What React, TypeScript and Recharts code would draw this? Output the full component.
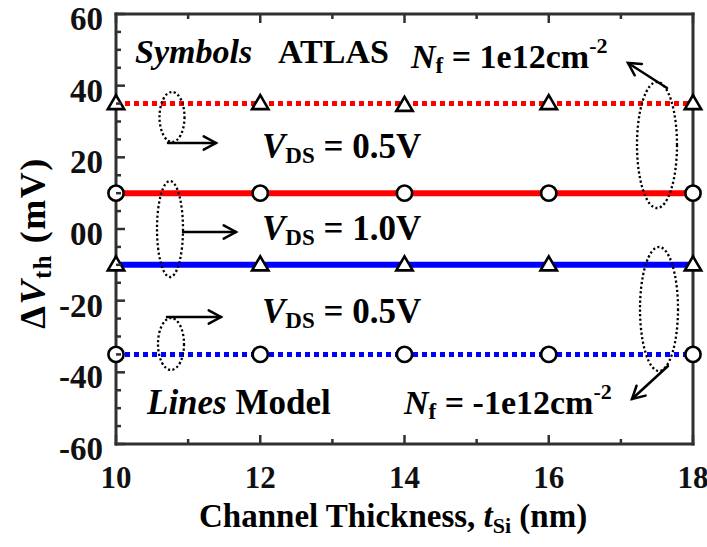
import React from 'react';
import { LineChart, Line, XAxis, YAxis } from 'recharts';

// ---- data ----
const thickness = [10, 12, 14, 16, 18];
const modelNfPosVds05 = [35, 35, 35, 35, 35];
const modelNfPosVds10 = [10, 10, 10, 10, 10];
const modelNfNegVds10 = [-10, -10, -10, -10, -10];
const modelNfNegVds05 = [-35, -35, -35, -35, -35];
const atlasNfPosVds05 = [35, 35, 34.5, 35, 35];
const atlasNfPosVds10 = [10, 10, 10, 10, 10];
const atlasNfNegVds10 = [-10, -10, -10, -10, -10];
const atlasNfNegVds05 = [-35, -35, -35, -35, -35];

const xTicks = [10, 11, 12, 13, 14, 15, 16, 17, 18];
const xMajor = [10, 12, 14, 16, 18];
const xTickLabels = ['10', '12', '14', '16', '18'];
const yTicks = [-60, -55, -50, -45, -40, -35, -30, -25, -20, -15, -10, -5, 0, 5, 10, 15, 20, 25, 30, 35, 40, 45, 50, 55, 60];
const yMajor = [60, 40, 20, 0, -20, -40, -60];
const yTickLabels = ['60', '40', '20', '00', '-20', '-40', '-60'];

const data = thickness.map((t, i) => ({
  t,
  m1: modelNfPosVds05[i],
  m2: modelNfPosVds10[i],
  m3: modelNfNegVds10[i],
  m4: modelNfNegVds05[i],
  s1: atlasNfPosVds05[i],
  s2: atlasNfPosVds10[i],
  s3: atlasNfNegVds10[i],
  s4: atlasNfNegVds05[i],
}));

const FRAME = '#303030';
const FONT = '"Liberation Serif", "Times New Roman", Times, serif';
const RED = '#ff0000';
const BLUE = '#0000ff';

const BottomTick = (props: any) => {
  const { x, y, payload } = props;
  const v = payload.value;
  const mi = xMajor.indexOf(v);
  const major = mi >= 0;
  return (
    <g>
      <line x1={x} y1={y} x2={x} y2={y - (major ? 9 : 5)} stroke={FRAME} strokeWidth={2.5} />
      {major && (
        <text x={x} y={y + 44} textAnchor="middle" fontFamily={FONT} fontWeight="bold" fontSize={31} fill="#111">
          {xTickLabels[mi]}
        </text>
      )}
    </g>
  );
};

const TopTick = (props: any) => {
  const { x, y, payload } = props;
  const major = xMajor.indexOf(payload.value) >= 0;
  return <line x1={x} y1={y} x2={x} y2={y + (major ? 9 : 5)} stroke={FRAME} strokeWidth={2.5} />;
};

const LeftTick = (props: any) => {
  const { x, y, payload } = props;
  const v = payload.value;
  const mi = yMajor.indexOf(v);
  const major = mi >= 0;
  return (
    <g>
      <line x1={x} y1={y} x2={x + (major ? 9 : 5)} y2={y} stroke={FRAME} strokeWidth={2.5} />
      {major && (
        <text x={x - 13} y={y + 16} textAnchor="end" fontFamily={FONT} fontWeight="bold" fontSize={33} fill="#111">
          {yTickLabels[mi]}
        </text>
      )}
    </g>
  );
};

const RightTick = (props: any) => {
  const { x, y, payload } = props;
  if (yMajor.indexOf(payload.value) < 0) return <g />;
  return <line x1={x} y1={y} x2={x - 9} y2={y} stroke={FRAME} strokeWidth={2.5} />;
};

const triDot = (p: any) => {
  const { cx, cy, index } = p;
  if (cx == null || cy == null) return <g key={index} />;
  return (
    <path
      key={'tri' + index}
      d={`M${cx},${cy - 8.5} L${cx + 8.2},${cy + 5.5} L${cx - 8.2},${cy + 5.5} Z`}
      fill="#fff"
      stroke="#000"
      strokeWidth={2.6}
      strokeLinejoin="miter"
    />
  );
};

const circDot = (p: any) => {
  const { cx, cy, index } = p;
  if (cx == null || cy == null) return <g key={index} />;
  return <circle key={'c' + index} cx={cx} cy={cy} r={7.6} fill="#fff" stroke="#000" strokeWidth={2.6} />;
};

const Arrow = ({ x1, y1, x2, y2 }: { x1: number; y1: number; x2: number; y2: number }) => {
  const a = Math.atan2(y2 - y1, x2 - x1);
  const L = 14;
  const s = 0.5;
  const h1x = x2 - L * Math.cos(a - s);
  const h1y = y2 - L * Math.sin(a - s);
  const h2x = x2 - L * Math.cos(a + s);
  const h2y = y2 - L * Math.sin(a + s);
  return (
    <g stroke="#000" strokeWidth={2.5} fill="none" strokeLinecap="round">
      <line x1={x1} y1={y1} x2={x2} y2={y2} />
      <polyline points={`${h1x},${h1y} ${x2},${y2} ${h2x},${h2y}`} />
    </g>
  );
};

const Oval = ({ cx, cy, rx, ry }: { cx: number; cy: number; rx: number; ry: number }) => (
  <ellipse cx={cx} cy={cy} rx={rx} ry={ry} fill="none" stroke="#000" strokeWidth={2.3} strokeDasharray="2.2 2.4" />
);

const txt = { fontFamily: FONT, fontWeight: 'bold' as const, fill: '#000' };

export default function App() {
  return (
    <div style={{ position: 'absolute', left: 0, top: 0, width: 707, height: 547, background: '#fff' }}>
      <LineChart width={707} height={547} data={data} margin={{ top: 0, right: 0, bottom: 0, left: 0 }} style={{ overflow: 'visible' }}>
        <XAxis
          xAxisId="b"
          dataKey="t"
          type="number"
          domain={[10, 18]}
          ticks={xTicks}
          interval={0}
          height={103}
          tickSize={0}
          tickMargin={0}
          tickLine={false}
          axisLine={{ stroke: FRAME, strokeWidth: 3, strokeLinecap: 'square' }}
          tick={BottomTick}
        />
        <XAxis
          xAxisId="top"
          orientation="top"
          dataKey="t"
          type="number"
          domain={[10, 18]}
          ticks={xTicks}
          interval={0}
          height={14}
          tickSize={0}
          tickMargin={0}
          tickLine={false}
          axisLine={{ stroke: FRAME, strokeWidth: 3, strokeLinecap: 'square' }}
          tick={TopTick}
        />
        <YAxis
          yAxisId="l"
          type="number"
          domain={[-60, 60]}
          ticks={yTicks}
          interval={0}
          width={116}
          tickSize={0}
          tickMargin={0}
          tickLine={false}
          axisLine={{ stroke: FRAME, strokeWidth: 3, strokeLinecap: 'square' }}
          tick={LeftTick}
        />
        <YAxis
          yAxisId="r"
          orientation="right"
          type="number"
          domain={[-60, 60]}
          ticks={yTicks}
          interval={0}
          width={14}
          tickSize={0}
          tickMargin={0}
          tickLine={false}
          axisLine={{ stroke: FRAME, strokeWidth: 3, strokeLinecap: 'square' }}
          tick={RightTick}
        />
        <Line xAxisId="b" yAxisId="l" dataKey="m1" stroke={RED} strokeWidth={5} strokeDasharray="5 4" dot={false} activeDot={false} isAnimationActive={false} />
        <Line xAxisId="b" yAxisId="l" dataKey="m2" stroke={RED} strokeWidth={6} dot={false} activeDot={false} isAnimationActive={false} />
        <Line xAxisId="b" yAxisId="l" dataKey="m3" stroke={BLUE} strokeWidth={6} dot={false} activeDot={false} isAnimationActive={false} />
        <Line xAxisId="b" yAxisId="l" dataKey="m4" stroke={BLUE} strokeWidth={5} strokeDasharray="5 4" dot={false} activeDot={false} isAnimationActive={false} />
        <Line xAxisId="b" yAxisId="l" dataKey="s1" stroke="none" dot={triDot} activeDot={false} isAnimationActive={false} />
        <Line xAxisId="b" yAxisId="l" dataKey="s2" stroke="none" dot={circDot} activeDot={false} isAnimationActive={false} />
        <Line xAxisId="b" yAxisId="l" dataKey="s3" stroke="none" dot={triDot} activeDot={false} isAnimationActive={false} />
        <Line xAxisId="b" yAxisId="l" dataKey="s4" stroke="none" dot={circDot} activeDot={false} isAnimationActive={false} />
      </LineChart>
      <svg width={707} height={547} style={{ position: 'absolute', left: 0, top: 0, pointerEvents: 'none' }}>
        {/* ovals and arrows */}
        <Oval cx={172} cy={117} rx={12.5} ry={25} />
        <Arrow x1={168} y1={143} x2={216} y2={143} />
        <Oval cx={170} cy={229} rx={13} ry={48} />
        <Arrow x1={183} y1={232} x2={236} y2={232} />
        <Oval cx={171} cy={344} rx={13} ry={26} />
        <Arrow x1={167} y1={317} x2={221} y2={317} />
        <Oval cx={657} cy={145} rx={20} ry={63} />
        <Arrow x1={667} y1={88} x2={628} y2={63} />
        <Oval cx={659} cy={309} rx={19} ry={62} />
        <Arrow x1={668} y1={366} x2={632} y2={399} />

        {/* texts */}
        <text x={135} y={63} fontSize={34} {...txt}>
          <tspan fontStyle="italic">Symbols</tspan>
        </text>
        <text x={278} y={63} fontSize={34} {...txt}>ATLAS</text>
        <text x={411} y={68} fontSize={34} {...txt}>
          <tspan fontStyle="italic">N</tspan>
          <tspan fontSize={23} dy={5}>f</tspan>
          <tspan dy={-5}> = 1e12cm</tspan>
          <tspan fontSize={22} dy={-15}>-2</tspan>
        </text>
        <text x={262} y={158} fontSize={35} {...txt}>
          <tspan fontStyle="italic">V</tspan>
          <tspan fontSize={23} dy={5}>DS</tspan>
          <tspan dy={-5}> = 0.5V</tspan>
        </text>
        <text x={262} y={240} fontSize={35} {...txt}>
          <tspan fontStyle="italic">V</tspan>
          <tspan fontSize={23} dy={5}>DS</tspan>
          <tspan dy={-5}> = 1.0V</tspan>
        </text>
        <text x={262} y={323} fontSize={35} {...txt}>
          <tspan fontStyle="italic">V</tspan>
          <tspan fontSize={23} dy={5}>DS</tspan>
          <tspan dy={-5}> = 0.5V</tspan>
        </text>
        <text x={147} y={414} fontSize={35} {...txt}>
          <tspan fontStyle="italic">Lines</tspan>
          <tspan> Model</tspan>
        </text>
        <text x={404} y={414} fontSize={34} {...txt}>
          <tspan fontStyle="italic">N</tspan>
          <tspan fontSize={23} dy={5}>f</tspan>
          <tspan dy={-5}> = -1e12cm</tspan>
          <tspan fontSize={22} dy={-15}>-2</tspan>
        </text>

        {/* axis titles */}
        <text transform="rotate(-90)" x={-243} y={45} textAnchor="middle" fontSize={36} letterSpacing={1.5} {...txt}>
          Δ<tspan fontStyle="italic">V</tspan>
          <tspan fontSize={25} dy={6}>th</tspan>
          <tspan dy={-6}> (mV)</tspan>
        </text>
        <text x={199} y={527} fontSize={33} {...txt}>
          Channel Thickness, <tspan fontStyle="italic">t</tspan>
          <tspan fontSize={22} dy={6}>Si</tspan>
          <tspan dy={-6}> (nm)</tspan>
        </text>
      </svg>
    </div>
  );
}
